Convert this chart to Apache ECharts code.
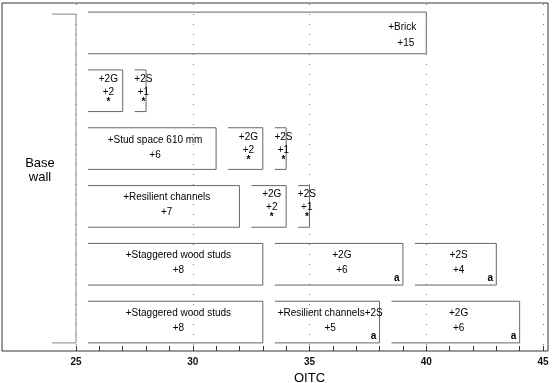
<!DOCTYPE html>
<html>
<head>
<meta charset="utf-8">
<script src="https://cdn.jsdelivr.net/npm/echarts@6/dist/echarts.min.js"></script>
<style>
  html, body { margin: 0; padding: 0; background: #fff; }
  #chart { width: 552px; height: 383px; }
</style>
</head>
<body>
<div id="chart"></div>
<script>
// rows of the figure, top to bottom
var rowNames = ['Brick', 'Gypsum', 'Stud space', 'Resilient', 'Staggered A', 'Staggered B'];
var baseWall = 25;

// one entry per box
var boxRow  = [0, 1, 1, 2, 2, 2, 3, 3, 3, 4, 4, 4, 5, 5, 5];
var boxFrom = [25, 25, 27, 25, 31, 33, 25, 32, 34, 25, 33, 39, 25, 33, 38];
var boxGain = [15, 2, 1, 6, 2, 1, 7, 2, 1, 8, 6, 4, 8, 5, 6];
var boxName = ['+Brick', '+2G', '+2S', '+Stud space 610 mm', '+2G', '+2S',
               '+Resilient channels', '+2G', '+2S', '+Staggered wood studs', '+2G', '+2S',
               '+Staggered wood studs', '+Resilient channels+2S', '+2G'];
var boxNote = ['', '*', '*', '', '*', '*', '', '*', '*', '', 'a', 'a', '', 'a', 'a'];

var chart = echarts.init(document.getElementById('chart'));

var boxes = [];
for (var i = 0; i < boxRow.length; i++) {
    boxes.push([boxFrom[i], boxFrom[i] + boxGain[i], boxRow[i], i]);
}

var font = 'Arial, "Liberation Sans", sans-serif';

function renderBox(params, api) {
    var idx = api.value(3);
    var row = api.value(2);
    var a = api.coord([api.value(0), row]);
    var b = api.coord([api.value(1), row]);
    var h = api.size([0, 1])[1] * 0.72;
    var xl = a[0] + 12, xr = b[0];
    var yt = a[1] - h / 2, yb = a[1] + h / 2;
    var note = boxNote[idx];
    var kids = [{
        type: 'polyline',
        shape: { points: [[xl, yt], [xr, yt], [xr, yb], [xl, yb]] },
        style: { stroke: '#666', lineWidth: 1, fill: null }
    }];
    var tx = (xl + xr) / 2 + 3, align = 'center';
    var y1 = yt + 12, y2 = yt + 27;
    if (idx === 0) { tx = xr - 10; align = 'right'; y1 = yt + 15; y2 = yt + 31; }
    if (note === '*') { y1 = yt + 9; y2 = yt + 22; }
    kids.push({
        type: 'text',
        style: { text: boxName[idx], x: tx, y: y1, align: align, verticalAlign: 'middle',
                 font: '10px ' + font, fill: '#000' }
    });
    kids.push({
        type: 'text',
        style: { text: '+' + boxGain[idx], x: idx === 0 ? tx - 2 : tx, y: y2, align: align,
                 verticalAlign: 'middle', font: '10px ' + font, fill: '#000' }
    });
    if (note === '*') {
        kids.push({
            type: 'text',
            style: { text: '*', x: tx, y: yt + 32, align: 'center', verticalAlign: 'middle',
                     font: 'bold 10px ' + font, fill: '#000' }
        });
    } else if (note === 'a') {
        kids.push({
            type: 'text',
            style: { text: 'a', x: xr - 6, y: yb - 7, align: 'center', verticalAlign: 'middle',
                     font: 'bold 10px ' + font, fill: '#000' }
        });
    }
    return { type: 'group', children: kids };
}

function renderBracket(params, api) {
    var h = api.size([0, 1])[1] * 0.72;
    var top = api.coord([api.value(0), 0]);
    var bot = api.coord([api.value(0), rowNames.length - 1]);
    var x = top[0];
    var yt = top[1] - h / 2 + 2, yb = bot[1] + h / 2;
    return {
        type: 'polyline',
        shape: { points: [[x - 24, yt], [x, yt], [x, yb], [x - 24, yb]] },
        style: { stroke: '#888', lineWidth: 1, fill: null }
    };
}

var opt = {
    animation: false,
    grid: { left: 76, right: 9, top: 4, bottom: 32, containLabel: false, outerBoundsMode: 'none' },
    xAxis: {
        type: 'value',
        min: 25,
        max: 45,
        interval: 5,
        name: 'OITC',
        nameLocation: 'middle',
        nameGap: 18,
        nameTextStyle: { fontFamily: font, fontSize: 13, color: '#000' },
        axisLine: { show: false },
        axisTick: { show: true, inside: true, length: 5, lineStyle: { color: '#333' } },
        minorTick: { show: true, splitNumber: 5, length: 5, lineStyle: { color: '#333' } },
        axisLabel: { fontFamily: font, fontSize: 10, fontWeight: 'bold', color: '#111', margin: 6 },
        splitLine: { show: true, lineStyle: { color: '#777', width: 1, type: [1, 9] } }
    },
    yAxis: {
        type: 'category',
        data: rowNames,
        inverse: true,
        show: false
    },
    graphic: [
        {
            type: 'rect',
            shape: { x: 2, y: 3, width: 546, height: 348 },
            style: { stroke: '#333', lineWidth: 1, fill: null },
            silent: true
        },
        {
            type: 'text',
            x: 40,
            y: 156,
            style: { text: 'Base\nwall', font: '13px ' + font, fill: '#000',
                     align: 'center', verticalAlign: 'top', lineHeight: 14 }
        }
    ],
    series: [
        {
            type: 'custom',
            renderItem: renderBracket,
            data: [[baseWall]],
            encode: { x: 0 },
            clip: false
        },
        {
            type: 'custom',
            renderItem: renderBox,
            data: boxes,
            encode: { x: [0, 1], y: 2 },
            clip: false
        }
    ]
};

chart.setOption(opt);
</script>
</body>
</html>
